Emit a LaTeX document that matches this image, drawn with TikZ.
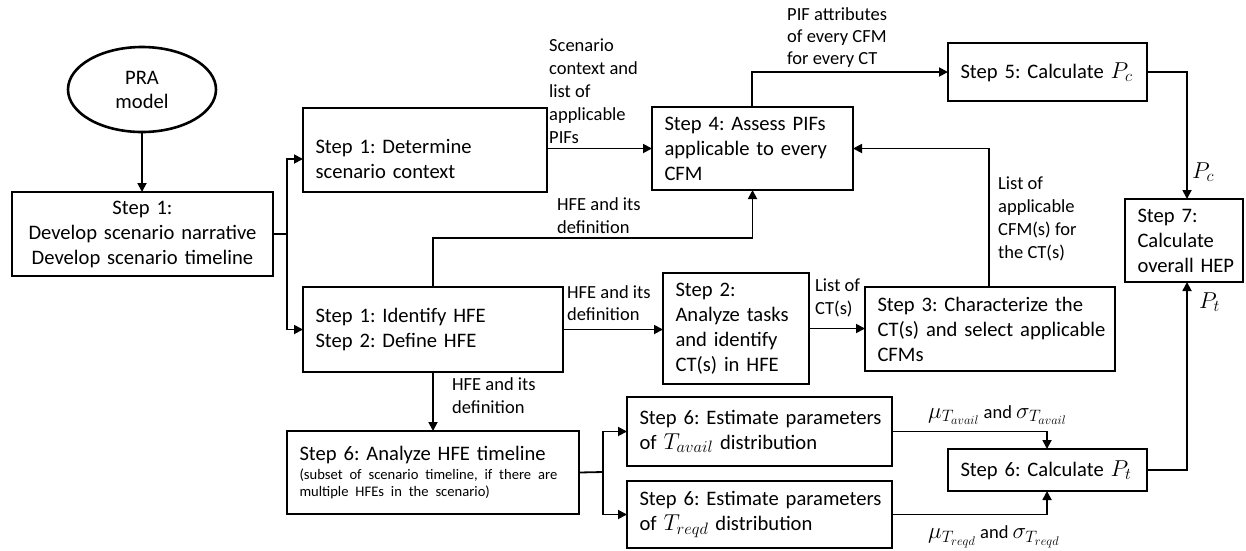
\RequirePackage{fix-cm}
\documentclass[tikz,border=0pt]{standalone}
\usepackage{fontspec}
\setmainfont{Carlito}
\usetikzlibrary{arrows.meta,shapes.geometric}

\DeclareMathSizes{23}{23}{16.5}{12.5}
\newcommand{\mth}[1]{{\fontsize{23}{24}\selectfont$#1$}}

\tikzset{
  box/.style={draw, line width=2.6pt, rectangle, anchor=north west,
    inner ysep=0pt, inner xsep=12.5pt, outer sep=0pt, align=left,
    font=\fontsize{20.6}{25}\selectfont},
  oval/.style={draw, line width=2.6pt, ellipse, inner sep=0pt, outer sep=0pt,
    align=center, font=\fontsize{20.6}{24}\selectfont},
  conn/.style={line width=1.8pt},
  arr/.style={conn, -{Triangle[length=9pt,width=9pt]}},
  lbl/.style={inner sep=0pt, align=left, anchor=north west,
    font=\fontsize{18.5}{23}\selectfont},
  mlbl/.style={inner sep=0pt, anchor=west, font=\fontsize{18.5}{23}\selectfont},
}

\begin{document}
\frenchspacing
\begin{tikzpicture}[x=1pt, y=-1pt]
\useasboundingbox (0,0) rectangle (1246,550);

% ---- boxes ----
\node[oval, minimum width=148pt, minimum height=85pt] (pra) at (142,89.5) {PRA\\model};
\node[box, align=center, text width=236pt, minimum height=84pt] (dev) at (12,192)
  {Step 1:\\\mbox{Develop scenario narrative}\\\mbox{Develop scenario timeline}};
\node[box, text width=219pt, minimum height=84pt] (ctx) at (303,108)
  {\rule{0pt}{33pt}Step 1: Determine\\scenario context};
\node[box, text width=176pt, minimum height=83pt] (pif) at (652,107)
  {Step 4: Assess PIFs\\\mbox{applicable to every}\\CFM};
\node[box, text width=174pt, minimum height=58pt] (pc) at (948,43)
  {\mbox{Step 5: Calculate \mth{P_c}}};
\node[box, text width=93pt, minimum height=83pt] (hep) at (1125,199)
  {Step 7:\\Calculate\\\mbox{overall HEP}};
\node[box, text width=235pt, minimum height=85pt] (hfe) at (303,287)
  {Step 1: Identify HFE\\Step 2: Define HFE};
\node[box, text width=121pt, minimum height=111pt] (ct) at (663,273)
  {Step 2:\\\mbox{Analyze tasks}\\\mbox{and identify}\\\mbox{CT(s) in HFE}};
\node[box, text width=225pt, minimum height=84pt] (cfm) at (865,287)
  {\mbox{Step 3: Characterize the}\\\mbox{CT(s) and select applicable}\\CFMs};
\node[box, text width=267pt, minimum height=83pt] (tl) at (287,431)
  {\mbox{Step 6: Analyze HFE timeline}\par\vspace{2pt}
   \fontsize{14.6}{17}\selectfont
   \mbox{(subset of scenario timeline, if there are}\\
   \mbox{multiple HFEs in the scenario)}\par};
\node[box, text width=240pt, minimum height=69pt] (tav) at (627,397)
  {\mbox{Step 6: Estimate parameters}\\\mbox{of \mth{T_{avail}} distribution}};
\node[box, text width=240pt, minimum height=67pt] (trq) at (627,481)
  {\mbox{Step 6: Estimate parameters}\\\mbox{of \mth{T_{reqd}} distribution}};
\node[box, text width=174pt, minimum height=42pt] (pt) at (948,449)
  {\mbox{Step 6: Calculate \mth{P_t}}};

% ---- bend points ----
\coordinate (f1) at (287,234);
\coordinate (c1) at (752,73);
\coordinate (c2) at (1187,0);
\coordinate (c3) at (433,238);
\coordinate (c4) at (989,148);
\coordinate (f2) at (603,472);
\coordinate (c5) at (1047,0);

% ---- connectors ----
\draw[arr] (pra.south) -- (pra.south |- dev.north);
\draw[conn] (dev.east) -- (f1);
\draw[arr] (f1) |- ([yshift=-9pt]ctx.west);
\draw[arr] (f1) |- (hfe.west);
\draw[arr] (pif.west -| ctx.east) -- (pif.west);
\draw[arr] (c1 |- pif.north) |- (pc.west);
\draw[arr] (pc.east) -| (c2 |- hep.north);
\draw[arr] (c3 |- hfe.north) -- (c3) -| (pif.south);
\draw[arr] (hfe.east) -- (hfe.east -| ct.west);
\draw[arr] (ct.east) -- (ct.east -| cfm.west);
\draw[arr] (c4 |- cfm.north) |- (pif.east);
\draw[arr] (c3 |- hfe.south) -- (c3 |- tl.north);
\draw[conn] (tl.east) -- (f2);
\draw[arr] (f2) |- (tav.west);
\draw[arr] (f2) |- (trq.west);
\draw[arr] (tav.east) -| (c5 |- pt.north);
\draw[arr] (trq.east) -| (c5 |- pt.south);
\draw[arr] (pt.east) -| (c2 |- hep.south);

% ---- connector labels ----
\node[lbl] (l1) at (549,39) {Scenario\\context and\\list of\\applicable\\PIFs};
\node[lbl, font=\fontsize{18.5}{22}\selectfont] (l2) at (787,7) {PIF attributes\\of every CFM\\for every CT};
\node[mlbl] (l3) at (1192,172) {\mth{P_c}};
\node[lbl] (l4) at (557,197) {HFE and its\\definition};
\node[lbl, font=\fontsize{18.5}{22}\selectfont] (l5) at (567,285) {HFE and its\\definition};
\node[lbl] (l6) at (815,279) {List of\\CT(s)};
\node[lbl] (l7) at (998,177) {List of\\applicable\\CFM(s) for\\the CT(s)};
\node[lbl] (l8) at (452,377) {HFE and its\\definition};
\node[mlbl] (l9) at (928,415) {\mth{\mu_{T_{avail}}} and \mth{\sigma_{T_{avail}}}};
\node[mlbl] (l10) at (928,537) {\mth{\mu_{T_{reqd}}} and \mth{\sigma_{T_{reqd}}}};
\node[mlbl] (l11) at (1199,302) {\mth{P_t}};
\end{tikzpicture}
\end{document}
